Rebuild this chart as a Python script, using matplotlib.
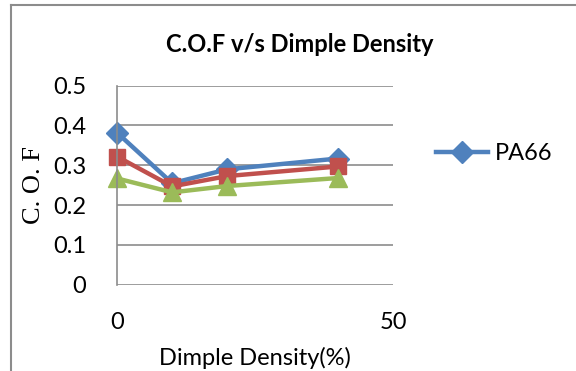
import matplotlib
matplotlib.use("Agg")
import matplotlib.pyplot as plt
from matplotlib.lines import Line2D

# dimple density (%) and coefficient of friction
density = [0, 10, 20, 40]
cof_pa66 = [0.382, 0.255, 0.29, 0.317]
cof_red = [0.322, 0.247, 0.273, 0.297]
cof_green = [0.267, 0.232, 0.248, 0.268]

plt.rcParams['font.family'] = ['Lato', 'DejaVu Sans']

fig = plt.figure(figsize=(5.76, 3.71), dpi=100)
ax = fig.add_axes([117/576, 86.3/371, 276/576, 199/371])

ax.plot(density, cof_pa66, color="#4F81BD", lw=3.2, marker="D", ms=11, label="PA66")
ax.plot(density, cof_red, color="#C0504D", lw=3.2, marker="s", ms=12)
ax.plot(density, cof_green, color="#9BBB59", lw=3.2, marker="^", ms=13)

ax.set_xlim(0, 50)
ax.set_ylim(0, 0.5)
ax.set_xticks([0, 50])
ax.set_yticks([0, 0.1, 0.2, 0.3, 0.4, 0.5])
ax.set_yticklabels(["0", "0.1", "0.2", "0.3", "0.4", "0.5"])
ax.grid(axis="y", color="#8c8c8c", lw=1.2)
ax.set_axisbelow(True)
for s in ["top", "right", "bottom"]:
    ax.spines[s].set_visible(False)
ax.spines["left"].set_color("#8c8c8c")
ax.spines["left"].set_linewidth(1.2)
ax.tick_params(axis="both", length=0, labelsize=17)
ax.tick_params(axis="x", pad=20)
ax.tick_params(axis="y", pad=22)
for ln in ax.lines:
    ln.set_clip_on(False)

ax.set_xlabel("Dimple Density(%)", fontsize=17, labelpad=10)
ax.set_ylabel("C. O. F", fontsize=19, family=["Liberation Serif"], labelpad=6)
fig.text(300/576, 1 - 44/371, "C.O.F v/s Dimple Density", fontsize=17,
         fontweight="bold", ha="center", va="center")

handle = Line2D([], [], color="#4F81BD", lw=3.2, marker="D", ms=11)
fig.legend([handle], ["PA66"], loc="center left", bbox_to_anchor=(415/576, 1 - 154/371),
           frameon=False, fontsize=17, handlelength=2.2, handletextpad=0.3)

# outer chart border (top and left edges visible)
fig.add_artist(Line2D([11/576, 1], [1 - 5/371, 1 - 5/371], color="#8c8c8c", lw=1.5))
fig.add_artist(Line2D([11/576, 11/576], [0, 1 - 5/371], color="#8c8c8c", lw=1.5))

fig.savefig("out.png", dpi=100)
